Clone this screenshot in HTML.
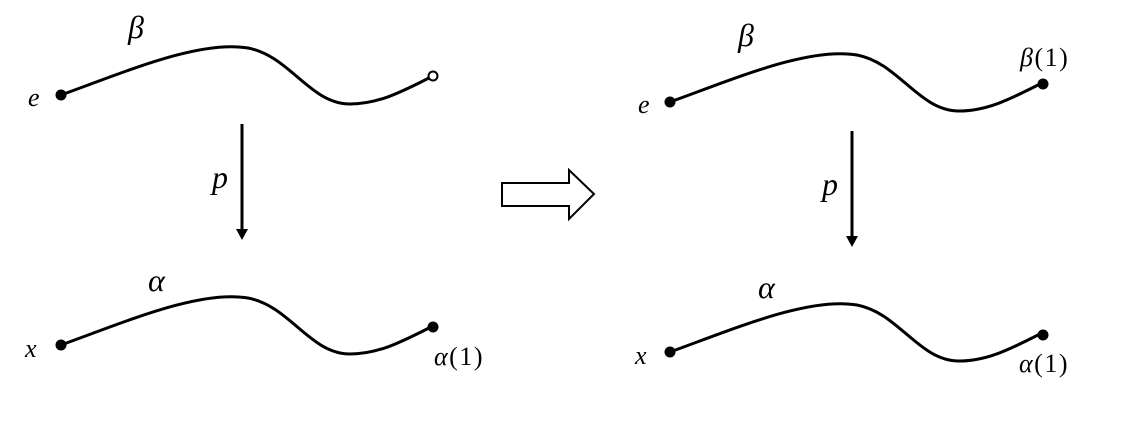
<!DOCTYPE html>
<html><head><style>body{margin:0;background:#fff}svg{display:block}
text{font-family:"Liberation Serif",serif;font-style:italic;fill:#000}</style></head><body>
<svg width="1144" height="424" viewBox="0 0 1144 424">
<defs>
<g id="c"><path d="M61 95 C130 70,200 40,248 48 C290 56,310 104,350 104 C380 104,405 90,433 76" fill="none" stroke="#000" stroke-width="3"/></g>
</defs>
<use href="#c"/>
<circle cx="61" cy="95" r="5.5"/>
<circle cx="433" cy="76" r="4.5" fill="#fff" stroke="#000" stroke-width="2"/>
<use href="#c" transform="translate(0,250)"/>
<circle cx="61" cy="345" r="5.5"/><circle cx="433" cy="327" r="5.5"/>
<use href="#c" transform="translate(609,7)"/>
<circle cx="670" cy="102" r="5.5"/><circle cx="1043" cy="84" r="5.5"/>
<use href="#c" transform="translate(609,257)"/>
<circle cx="670" cy="352" r="5.5"/><circle cx="1043" cy="335" r="5.5"/>
<line x1="242" y1="124" x2="242" y2="230" stroke="#000" stroke-width="3"/>
<path d="M236 229 L248 229 L242 240Z"/>
<line x1="852" y1="131" x2="852" y2="237" stroke="#000" stroke-width="3"/>
<path d="M846 236 L858 236 L852 247Z"/>
<path d="M502 183 L569 183 L569 170 L594 194 L569 219 L569 206 L502 206Z" fill="#fff" stroke="#000" stroke-width="2"/>
<g font-size="32">
<text x="128" y="38">β</text><text x="148" y="291">α</text>
<text x="738" y="46">β</text><text x="758" y="298">α</text>
<text x="212" y="188">p</text><text x="822" y="195">p</text>
</g>
<g font-size="26">
<text x="28" y="106">e</text><text x="25" y="357">x</text>
<text x="638" y="113">e</text><text x="635" y="364">x</text>
<text x="434" y="365" letter-spacing="1.5">α<tspan font-style="normal">(1)</tspan></text>
<text x="1019" y="372" letter-spacing="1.5">α<tspan font-style="normal">(1)</tspan></text>
<text x="1020" y="66" letter-spacing="1.5">β<tspan font-style="normal">(1)</tspan></text>
</g>
</svg>
</body></html>
